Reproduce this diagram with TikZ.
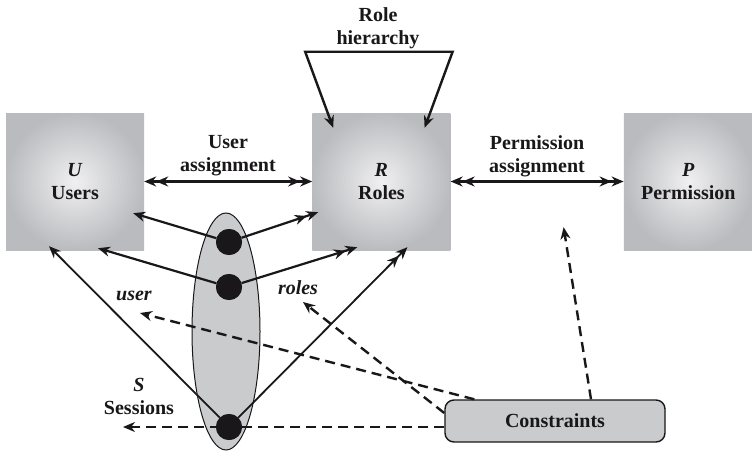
\documentclass[tikz,border=0pt]{standalone}
\usepackage{fontspec}
\setmainfont{Liberation Serif}
\usetikzlibrary{arrows.meta, positioning, shapes.geometric}
\definecolor{BoxGray}{rgb}{0.73, 0.735, 0.75}
\definecolor{BoxLight}{rgb}{0.94, 0.94, 0.945}
\definecolor{OvalGray}{rgb}{0.79, 0.795, 0.805}
\definecolor{InkBlack}{rgb}{0.1, 0.09, 0.1}

\begin{document}
\begin{tikzpicture}[
    x=1pt, y=-1pt,
    font=\fontsize{20}{23}\selectfont\bfseries,
    text=InkBlack,
    setbox/.style={rectangle, shading=radial, inner color=BoxLight, outer color=BoxGray,
        minimum width=138pt, minimum height=137pt, align=center},
    oval/.style={ellipse, draw=InkBlack, line width=1pt, fill=OvalGray,
        minimum width=68pt, minimum height=237pt},
    dot/.style={circle, fill=InkBlack, minimum size=26pt, inner sep=0pt},
    rulebox/.style={draw=InkBlack, line width=1.4pt, fill=OvalGray, rounded corners=9pt,
        minimum width=220pt, minimum height=42pt},
    lbl/.style={align=center},
    one/.style={-{Stealth[length=12pt, width=10pt]}, line width=2.2pt, InkBlack},
    many/.style={-{Stealth[length=12pt, width=10pt]Stealth[length=12pt, width=10pt]},
        line width=2.2pt, InkBlack},
    twoway/.style={{Stealth[length=12pt, width=10pt]Stealth[length=12pt, width=10pt]}-%
        {Stealth[length=12pt, width=10pt]Stealth[length=12pt, width=10pt]},
        line width=2.4pt, InkBlack},
    limit/.style={-{Stealth[length=12pt, width=10pt]}, dash pattern=on 10pt off 6pt,
        line width=2.4pt, InkBlack},
]
\useasboundingbox (0,0) rectangle (752,452);

% the three sets
\node[setbox] (users) at (75,181.5) {\textit{U}\\Users};
\node[setbox, right=168pt of users] (roles) {\textit{R}\\Roles};
\node[setbox, minimum width=129pt, right=173pt of roles] (perm) {\textit{P}\\Permission};

% sessions oval and its members
\node[oval] (sess) at (226,331.5) {};
\node[dot] (d1) at (229,242) {};
\node[dot] (d2) at (229,287) {};
\node[dot] (d3) at (229,427) {};

\node[rulebox] (cons) at (555,421) {Constraints};

% labels
\node[lbl] (ua) at (228,156) {User\\assignment};
\node[lbl] (pa) at (537,156) {Permission\\assignment};
\node[lbl] (rh) at (378,28) {Role\\hierarchy};
\node[lbl] (usr) at (134,296) {\textit{user}};
\node[lbl] (rls) at (298,288) {\textit{roles}};
\node[lbl] (ses) at (139,396) {\textit{S}\\Sessions};

% end points
\coordinate (u1) at ([xshift=-11pt, yshift=37pt]users.south east);
\coordinate (u2) at ([xshift=23pt, yshift=2pt]users.south);
\coordinate (u3) at ([xshift=-26pt, yshift=4pt]users.south);
\coordinate (r1) at ([xshift=6pt, yshift=38pt]roles.south west);
\coordinate (r2) at ([xshift=45pt, yshift=3pt]roles.south west);
\coordinate (r3) at ([xshift=26pt, yshift=3pt]roles.south);
\coordinate (h1) at ([xshift=21pt, yshift=-15pt]roles.north west);
\coordinate (h2) at ([xshift=-7pt, yshift=61pt]roles.north west);
\coordinate (h3) at ([xshift=2pt, yshift=61pt]roles.north east);
\coordinate (h4) at ([xshift=-26pt, yshift=-15pt]roles.north east);
\coordinate (c1) at ([xshift=30pt]cons.north west);
\coordinate (c2) at ([yshift=8pt]cons.west);
\coordinate (c3) at ([yshift=-6pt]cons.west);
\coordinate (c4) at ([xshift=36pt]cons.north);
\coordinate (t1) at (140,313);
\coordinate (t2) at (303,302);
\coordinate (t3) at ([xshift=-106pt]d3);
\coordinate (t4) at ([xshift=-60pt, yshift=23pt]perm.south west);

% assignments
\draw[twoway] (users) -- (roles);
\draw[twoway] (roles) -- (perm);
\draw[{Stealth[length=12pt, width=10pt]}-{Stealth[length=12pt, width=10pt]},
    line width=2.4pt, InkBlack] (h1) -- (h2) -- (h3) -- (h4);

% session links
\draw[one] (d1) -- (u1);
\draw[one] (d2) -- (u2);
\draw[one, line width=1.8pt] (d3) -- (u3);
\draw[many] (d1) -- (r1);
\draw[many] (d2) -- (r2);
\draw[many, line width=1.8pt] (d3) -- (r3);
\node[dot] at (d1) {};
\node[dot] at (d2) {};
\node[dot] at (d3) {};

% constraints
\draw[limit] (c1) -- (t1);
\draw[limit] (c2) -- (t2);
\draw[limit] (c3) -- (t3);
\draw[limit] (c4) -- (t4);

\end{tikzpicture}
\end{document}
